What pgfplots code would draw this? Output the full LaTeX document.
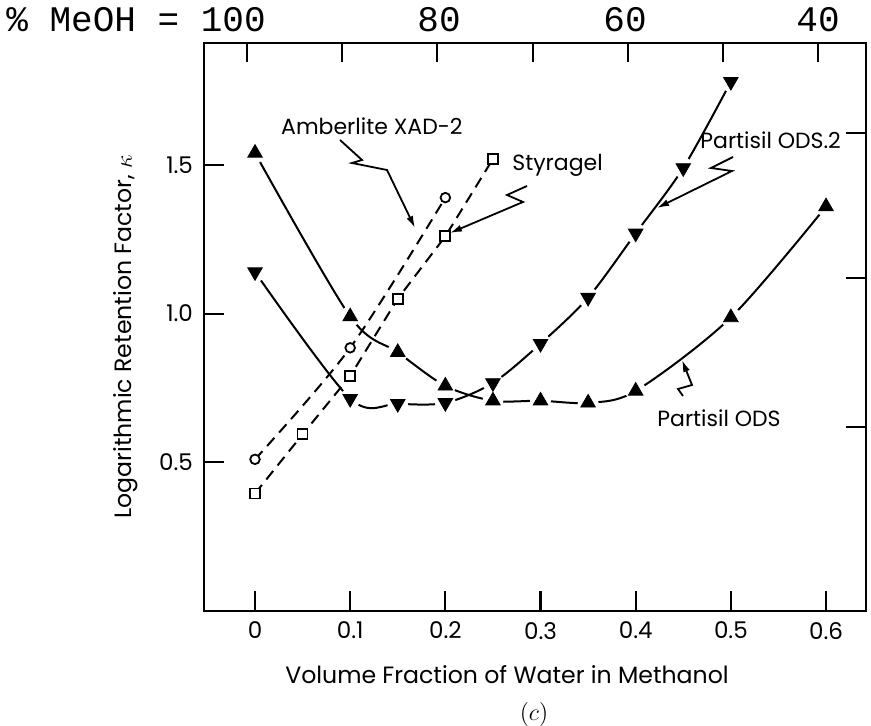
\documentclass[border=0pt]{standalone}
\usepackage{fontspec}
\setmainfont{Poppins}
\newfontfamily\mono{Liberation Mono}
\usepackage{pgfplots}
\usepackage{pgfplotstable}
\pgfplotsset{compat=1.18}
\usetikzlibrary{arrows.meta}

% Partisil ODS (filled up-triangles)
\pgfplotstableread{
x y
0 1.54
0.1 0.99
0.15 0.87
0.2 0.757
0.25 0.707
0.3 0.707
0.35 0.70
0.4 0.74
0.5 0.987
0.6 1.36
}\ods
% Partisil ODS.2 (filled down-triangles)
\pgfplotstableread{
x y
0 1.14
0.1 0.714
0.15 0.697
0.2 0.70
0.25 0.767
0.3 0.899
0.35 1.054
0.4 1.27
0.45 1.49
0.5 1.78
}\odsb
% Amberlite XAD-2 (open circles)
\pgfplotstableread{
x y
0 0.51
0.1 0.885
0.2 1.39
}\amb
% Styragel (open squares)
\pgfplotstableread{
x y
0 0.395
0.05 0.594
0.1 0.79
0.15 1.05
0.2 1.26
0.25 1.52
}\sty

\begin{document}
\begin{tikzpicture}
\begin{axis}[
  scale only axis, width=331pt, height=284pt,
  xmin=-0.0536, xmax=0.642, ymin=0, ymax=1.91,
  axis line style={line width=1.2pt},
  tick style={line width=1.1pt, black},
  tick align=inside,
  major tick length=10pt,
  xtick={0,0.1,0.2,0.3,0.4,0.5,0.6},
  xticklabels={0,0.1,0.2,0.3,0.4,0.5,0.6},
  ytick={0.5,1,1.5}, yticklabels={0.5,1.0,1.5},
  xtick pos=bottom, ytick pos=left,
  ticklabel style={font=\fontsize{11.5}{13}\selectfont},
  xticklabel style={yshift=-2pt},
  yticklabel style={xshift=-2pt},
]
\addplot[line width=1pt, smooth, no marks] table {\ods};
\addplot[line width=1pt, smooth, no marks] table {\odsb};
\addplot[line width=1pt, smooth, dash pattern=on 5.5pt off 3.5pt, no marks] table {\amb};
\addplot[line width=1pt, dash pattern=on 5.5pt off 3.5pt, no marks] table {\sty};
% white halos round the triangles
\addplot[white, only marks, mark=*, mark size=5pt] table {\ods};
\addplot[white, only marks, mark=*, mark size=5pt] table {\odsb};
% markers
\addplot[black, only marks, mark=triangle*, mark size=4.2pt, mark options={fill=black, draw=black}] table {\ods};
\addplot[black, only marks, mark=triangle*, mark size=4.2pt, mark options={fill=black, draw=black, rotate=180}] table {\odsb};
\addplot[black, only marks, mark=*, mark size=2.4pt, mark options={fill=white, draw=black, line width=0.9pt}] table {\amb};
\addplot[black, only marks, mark=square*, mark size=2.5pt, mark options={fill=white, draw=black, line width=0.9pt}] table {\sty};
\end{axis}
% annotations in pixel units of the reference (origin top-left)
\begin{scope}[x=0.5pt, y=-0.5pt, xshift=-102pt, yshift=305.5pt]
  \foreach \t in {247,342,437,533,628,723,818} \draw[line width=1.1pt] (\t,43) -- (\t,62);
  \foreach \t in {133,278,427} \draw[line width=1.1pt] (866,\t) -- (846,\t);
  \node[anchor=base west, inner sep=0pt, font=\mono\fontsize{18}{20}\selectfont] at (6,32) {\% MeOH = 100};
  \node[anchor=base, inner sep=0pt, font=\mono\fontsize{18}{20}\selectfont] at (439,32) {80};
  \node[anchor=base, inner sep=0pt, font=\mono\fontsize{18}{20}\selectfont] at (625,32) {60};
  \node[anchor=base, inner sep=0pt, font=\mono\fontsize{18}{20}\selectfont] at (818,32) {40};
  \node[font=\fontsize{11.8}{14}\selectfont] at (507,675) {Volume Fraction of Water in Methanol};
  \node[font=\fontsize{13}{15}\selectfont] at (534,715) {$(c)$};
  \node[rotate=90, font=\fontsize{11.8}{14}\selectfont] at (126,337) {Logarithmic Retention Factor, $\kappa$};
  \node[anchor=east, inner sep=0pt, font=\fontsize{11}{13}\selectfont] at (463,126) {Amberlite XAD-2};
  \node[anchor=west, inner sep=0pt, font=\fontsize{11}{13}\selectfont] at (512,165) {Styragel};
  \node[anchor=west, inner sep=0pt, font=\fontsize{11}{13}\selectfont] at (700,140) {Partisil ODS.2};
  \node[anchor=west, inner sep=0pt, font=\fontsize{11}{13}\selectfont] at (657,418) {Partisil ODS};
  \draw[line width=0.9pt, -{Latex[length=6pt,width=3.5pt]}] (340,140) -- (362,160) -- (352,163) -- (387,170) -- (415,228);
  \draw[line width=0.9pt, -{Latex[length=6pt,width=3.5pt]}] (527,186) -- (507,195) -- (523,202) -- (450,233);
  \draw[line width=0.9pt, -{Latex[length=6pt,width=3.5pt]}] (733,157) -- (711,168) -- (732,171) -- (657,208);
  \draw[line width=0.9pt, -{Latex[length=6pt,width=3.5pt]}] (683,396) -- (678,389) -- (692,385) -- (682,360);
  \pgfresetboundingbox
  \path[use as bounding box] (0,0) rectangle (871,726);
\end{scope}
\end{tikzpicture}
\end{document}
